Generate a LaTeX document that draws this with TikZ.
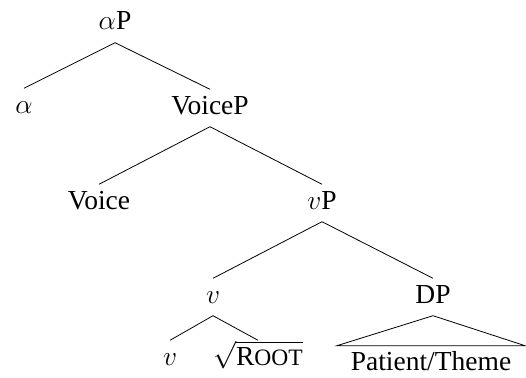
\RequirePackage{fix-cm}
\documentclass[tikz,border=0pt]{standalone}
\usepackage{fontspec}
\setmainfont{Liberation Serif}
\usetikzlibrary{calc}
\begin{document}
\fontsize{27.5}{33}\selectfont
\begin{tikzpicture}[x=1pt,y=-1pt,
  lab/.style={anchor=base,text height=18pt,text depth=6pt,inner ysep=6.5pt,inner xsep=0pt,font=\fontsize{27.5}{33}\selectfont},
  roofed/.style={anchor=base,text height=18pt,text depth=0pt,inner ysep=6pt,inner xsep=14pt,font=\fontsize{27.5}{33}\selectfont},
  branch/.style={line width=0.8pt}]
\useasboundingbox (0,0) rectangle (526,377);
\node[lab] (aP) at (115,30) {$\alpha$P};
\node[lab] (alpha) at (24,113) {$\alpha$};
\node[lab] (VoiceP) at (210,114) {VoiceP};
\node[lab] (Voice) at (99,209) {Voice};
\node[lab] (vP) at (322,209) {$v$P};
\node[lab] (v) at (213,303) {$v$};
\node[lab] (DP) at (433,303) {DP};
\node[lab] (vlow) at (170,365) {$v$};
\node[lab] (root) at (258,365) {$\sqrt{\mbox{R\fontsize{23.5}{28}\selectfont OOT}}$};
\node[roofed] (pt) at (431,370) {Patient/Theme};
\draw[branch] (alpha.north) -- (aP.south) -- (VoiceP.north);
\draw[branch] (Voice.north) -- (VoiceP.south) -- (vP.north);
\draw[branch] (v.north) -- (vP.south) -- (DP.north);
\draw[branch] (vlow.north) -- (v.south) -- (root.north);
\draw[branch] (DP.south) -- (pt.north west) -- (pt.north east) -- cycle;
\end{tikzpicture}
\end{document}
